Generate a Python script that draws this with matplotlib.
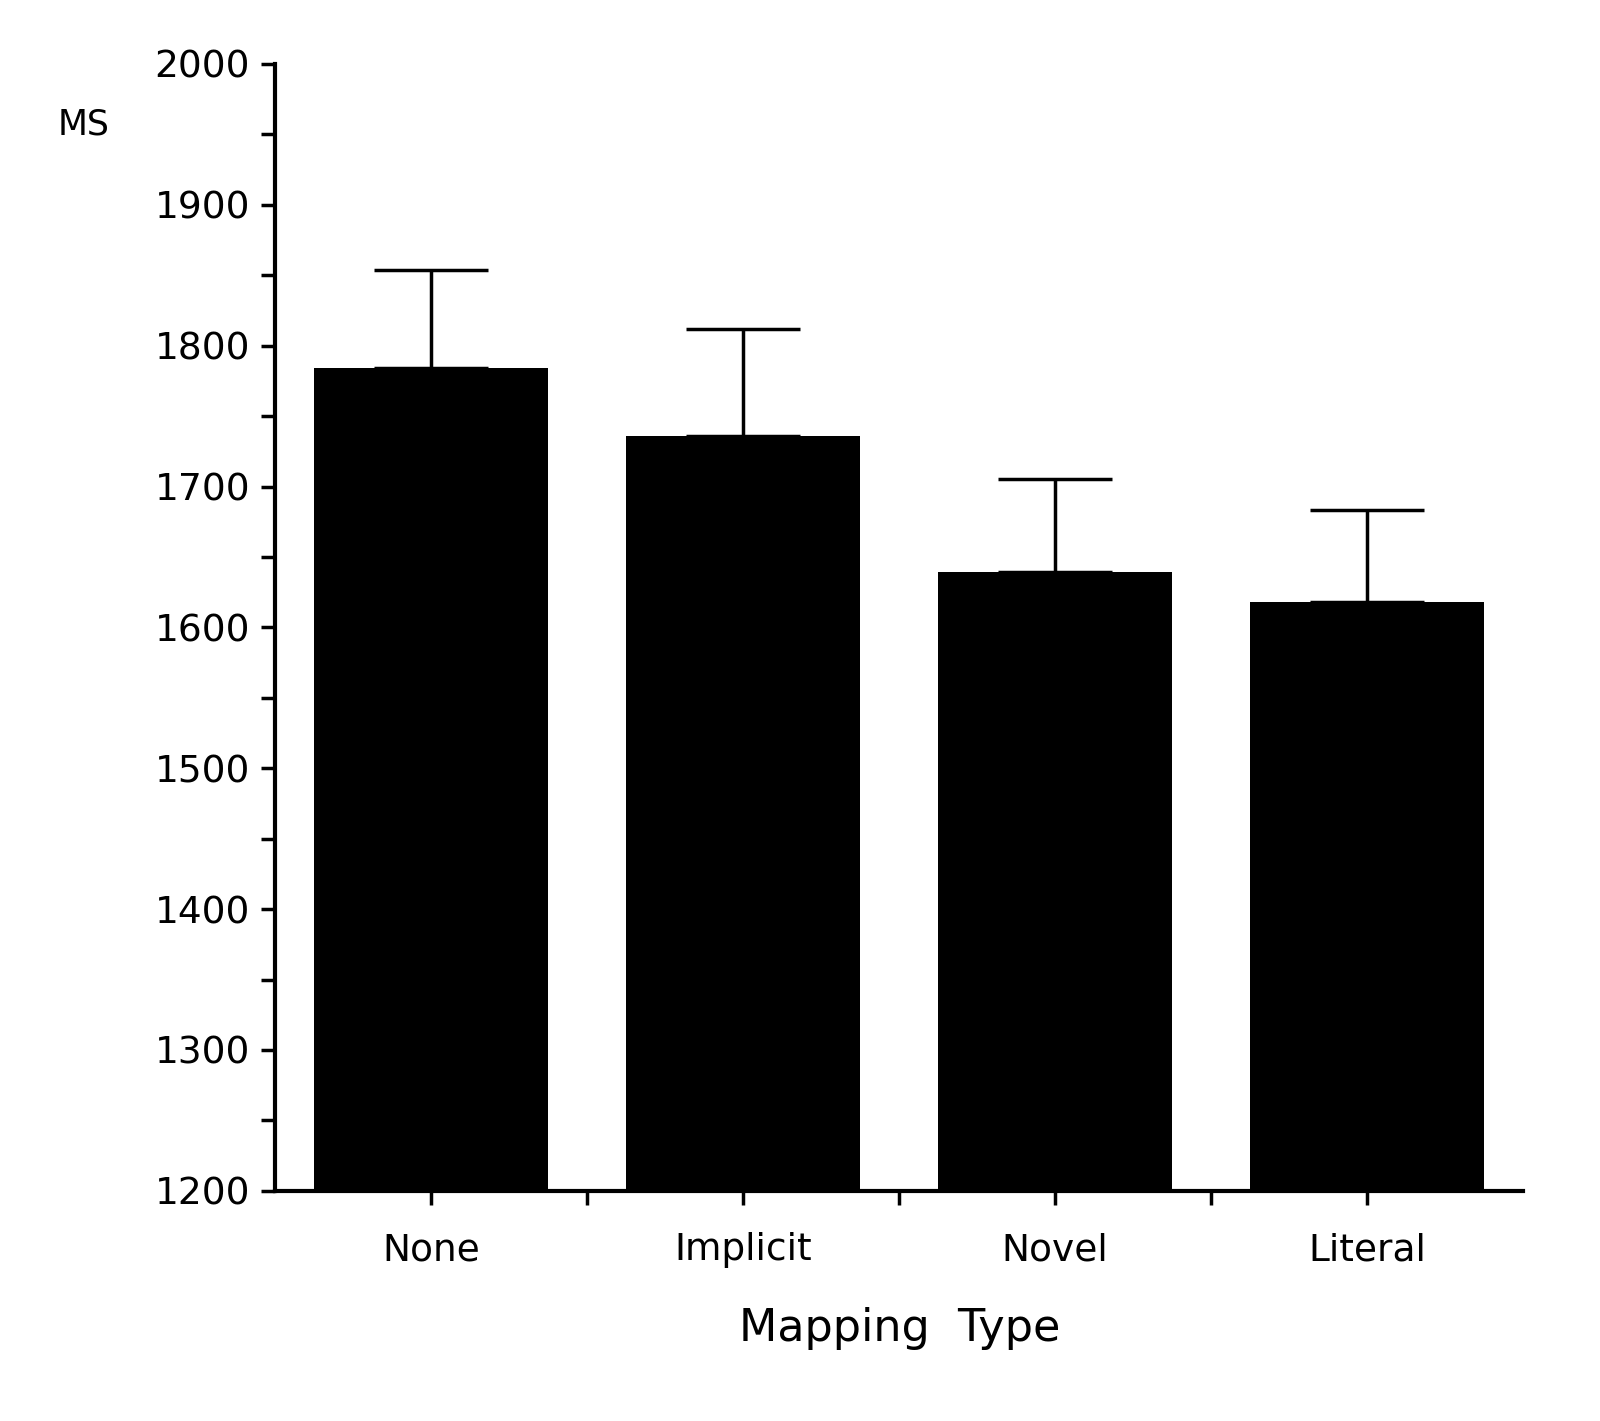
import matplotlib
matplotlib.use("Agg")
import matplotlib.pyplot as plt
import numpy as np

categories = ["None", "Implicit", "Novel", "Literal"]
means = [1784, 1736, 1639, 1618]
err_upper = [70, 76, 66, 65]

fig = plt.figure(figsize=(16, 14.21), dpi=100)
ax = fig.add_axes([0.172, 0.162, 0.78, 0.793])
x = np.arange(len(categories))
ax.bar(x, [m - 1200 for m in means], bottom=1200, width=0.75, color="black")
ax.errorbar(x, means, yerr=[np.zeros(4), err_upper], fmt="none", ecolor="black",
            elinewidth=2.5, capsize=41, capthick=2.5)
ax.set_xlim(-0.5, 3.5)
ax.set_ylim(1200, 2000)
ax.set_yticks(np.arange(1200, 2001, 100))
ax.set_yticks(np.arange(1250, 2000, 100), minor=True)
ax.set_xticks(x)
ax.set_xticklabels(categories)
ax.set_xticks([0.5, 1.5, 2.5], minor=True)
for s in ["top", "right"]:
    ax.spines[s].set_visible(False)
for s in ["left", "bottom"]:
    ax.spines[s].set_linewidth(3)
ax.tick_params(axis="both", which="both", width=2.5, length=10, labelsize=27)
ax.tick_params(axis="x", which="major", pad=20)
ax.tick_params(axis="y", which="major", pad=8)
ax.set_xlabel("Mapping  Type", fontsize=32, labelpad=28)
fig.text(0.036, 0.905, "MS", fontsize=25)
fig.savefig("out.png", dpi=100)
